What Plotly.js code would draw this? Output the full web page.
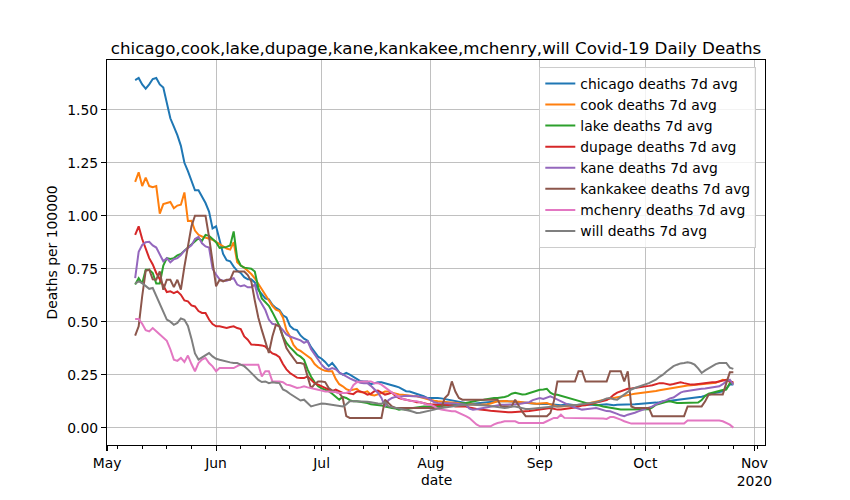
<!DOCTYPE html>
<html>
<head>
<meta charset="utf-8">
<script src="https://cdn.plot.ly/plotly-3.0.1.min.js"></script>
<style>
  html, body { margin: 0; padding: 0; background: #fff; }
  #chart { width: 850px; height: 500px; }
</style>
</head>
<body>
<div id="chart"></div>
<script>
// daily 7 day averages, deaths per 100000, starting 2020-05-09
var startDate = '2020-05-09';

var chicago = [
  1.64, 1.65, 1.62, 1.60, 1.62, 1.645, 1.65, 1.62, 1.605, 1.53,
  1.46, 1.42, 1.38, 1.33, 1.25, 1.21, 1.16, 1.12, 1.12, 1.09,
  1.06, 1.02, 0.94, 0.95, 0.88, 0.82, 0.79, 0.785, 0.76, 0.74,
  0.73, 0.71, 0.70, 0.70, 0.685, 0.65, 0.63, 0.61, 0.605, 0.58,
  0.565, 0.555, 0.53, 0.52, 0.48, 0.465, 0.46, 0.435, 0.42, 0.41,
  0.38, 0.36, 0.335, 0.325, 0.31, 0.29, 0.305, 0.285, 0.26, 0.25,
  0.258, 0.25, 0.24, 0.228, 0.22, 0.218, 0.218, 0.205, 0.21, 0.214,
  0.214, 0.21, 0.205, 0.20, 0.195, 0.19, 0.18, 0.172, 0.17, 0.165,
  0.158, 0.152, 0.148, 0.14, 0.14, 0.142, 0.14, 0.138, 0.135, 0.13,
  0.128, 0.125, 0.124, 0.12, 0.117, 0.113, 0.113, 0.115, 0.116, 0.116,
  0.118, 0.12, 0.122, 0.124, 0.124, 0.126, 0.124, 0.124, 0.122, 0.12,
  0.118, 0.116, 0.116, 0.113, 0.113, 0.112, 0.113, 0.113, 0.11, 0.108,
  0.108, 0.106, 0.108, 0.11, 0.108, 0.106, 0.108, 0.108, 0.11, 0.108,
  0.108, 0.106, 0.108, 0.108, 0.11, 0.108, 0.106, 0.108, 0.108, 0.108,
  0.108, 0.11, 0.11, 0.112, 0.113, 0.113, 0.113, 0.116, 0.118, 0.12,
  0.124, 0.124, 0.126, 0.128, 0.13, 0.132, 0.134, 0.136, 0.138, 0.14,
  0.142, 0.146, 0.15, 0.156, 0.16, 0.164, 0.168, 0.171, 0.185, 0.203,
  0.203
];

var cook = [
  1.16, 1.205, 1.14, 1.18, 1.14, 1.135, 1.14, 1.01, 1.055, 1.06,
  1.065, 1.035, 1.048, 1.052, 1.11, 0.975, 0.976, 0.93, 0.91, 0.902,
  0.897, 0.89, 0.887, 0.877, 0.865, 0.855, 0.845, 0.84, 0.875, 0.78,
  0.765, 0.755, 0.74, 0.725, 0.705, 0.68, 0.652, 0.63, 0.605, 0.575,
  0.557, 0.55, 0.52, 0.46, 0.43, 0.39, 0.37, 0.362, 0.35, 0.336,
  0.325, 0.30, 0.285, 0.275, 0.268, 0.266, 0.266, 0.23, 0.205, 0.195,
  0.182, 0.175, 0.178, 0.183, 0.168, 0.166, 0.171, 0.155, 0.152, 0.156,
  0.163, 0.17, 0.17, 0.165, 0.16, 0.156, 0.155, 0.152, 0.15, 0.149,
  0.148, 0.145, 0.14, 0.135, 0.13, 0.127, 0.124, 0.123, 0.122, 0.121,
  0.12, 0.118, 0.116, 0.114, 0.112, 0.11, 0.109, 0.108, 0.108, 0.108,
  0.11, 0.114, 0.12, 0.124, 0.124, 0.126, 0.124, 0.124, 0.124, 0.122,
  0.12, 0.118, 0.116, 0.113, 0.113, 0.114, 0.116, 0.116, 0.11, 0.104,
  0.10, 0.10, 0.10, 0.102, 0.104, 0.105, 0.106, 0.108, 0.112, 0.116,
  0.12, 0.124, 0.128, 0.13, 0.134, 0.137, 0.14, 0.144, 0.148, 0.152,
  0.156, 0.157, 0.16, 0.162, 0.163, 0.164, 0.167, 0.17, 0.173, 0.176,
  0.179, 0.182, 0.185, 0.188, 0.191, 0.195, 0.197, 0.199, 0.20, 0.202,
  0.203, 0.205, 0.206, 0.208, 0.21, 0.212, 0.218, 0.226, 0.222, 0.218,
  0.21
];

var lake = [
  0.675, 0.705, 0.68, 0.745, 0.745, 0.73, 0.68, 0.68, 0.765, 0.80,
  0.796, 0.80, 0.813, 0.82, 0.835, 0.85, 0.865, 0.88, 0.894, 0.882,
  0.91, 0.905, 0.89, 0.875, 0.848, 0.85, 0.853, 0.86, 0.926, 0.80,
  0.765, 0.755, 0.752, 0.75, 0.737, 0.66, 0.61, 0.59, 0.575, 0.545,
  0.51, 0.48, 0.43, 0.40, 0.38, 0.36, 0.345, 0.335, 0.32, 0.275,
  0.24, 0.215, 0.195, 0.185, 0.178, 0.172, 0.16, 0.145, 0.132, 0.145,
  0.14, 0.13, 0.124, 0.124, 0.122, 0.118, 0.116, 0.11, 0.108, 0.108,
  0.105, 0.10, 0.095, 0.093, 0.09, 0.085, 0.088, 0.085, 0.09, 0.093,
  0.095, 0.10, 0.10, 0.10, 0.10, 0.10, 0.10, 0.10, 0.103, 0.105,
  0.108, 0.11, 0.112, 0.115, 0.116, 0.12, 0.125, 0.128, 0.13, 0.132,
  0.135, 0.137, 0.14, 0.14, 0.142, 0.145, 0.15, 0.16, 0.164, 0.16,
  0.156, 0.158, 0.164, 0.168, 0.175, 0.179, 0.18, 0.183, 0.165, 0.156,
  0.155, 0.15, 0.145, 0.14, 0.135, 0.13, 0.124, 0.12, 0.115, 0.112,
  0.11, 0.108, 0.104, 0.10, 0.097, 0.093, 0.09, 0.088, 0.086, 0.085,
  0.085, 0.085, 0.085, 0.085, 0.085, 0.085, 0.087, 0.095, 0.108, 0.112,
  0.118, 0.122, 0.124, 0.12, 0.116, 0.116, 0.116, 0.115, 0.116, 0.116,
  0.118, 0.13, 0.15, 0.16, 0.165, 0.171, 0.175, 0.178, 0.18, 0.21,
  0.207
];

var dupage = [
  0.91, 0.95, 0.89, 0.848, 0.80, 0.77, 0.73, 0.70, 0.667, 0.64,
  0.643, 0.635, 0.643, 0.627, 0.60, 0.596, 0.577, 0.572, 0.55, 0.541,
  0.541, 0.51, 0.489, 0.478, 0.478, 0.475, 0.47, 0.475, 0.478, 0.47,
  0.465, 0.43, 0.415, 0.392, 0.392, 0.39, 0.388, 0.383, 0.365, 0.35,
  0.344, 0.332, 0.30, 0.275, 0.258, 0.245, 0.236, 0.234, 0.234, 0.242,
  0.225, 0.21, 0.203, 0.195, 0.19, 0.182, 0.172, 0.179, 0.17, 0.164,
  0.164, 0.16, 0.158, 0.171, 0.171, 0.165, 0.156, 0.16, 0.172, 0.175,
  0.164, 0.156, 0.16, 0.165, 0.15, 0.14, 0.135, 0.13, 0.128, 0.125,
  0.12, 0.12, 0.115, 0.112, 0.11, 0.108, 0.108, 0.11, 0.108, 0.108,
  0.105, 0.10, 0.10, 0.098, 0.10, 0.095, 0.09, 0.088, 0.085, 0.085,
  0.082, 0.08, 0.078, 0.077, 0.075, 0.073, 0.072, 0.072, 0.074, 0.075,
  0.077, 0.077, 0.078, 0.08, 0.082, 0.085, 0.085, 0.09, 0.093, 0.088,
  0.085, 0.085, 0.088, 0.093, 0.093, 0.095, 0.10, 0.104, 0.106, 0.11,
  0.113, 0.116, 0.12, 0.125, 0.13, 0.14, 0.155, 0.165, 0.171, 0.178,
  0.183, 0.185, 0.187, 0.19, 0.19, 0.195, 0.197, 0.20, 0.205, 0.21,
  0.21, 0.205, 0.203, 0.206, 0.21, 0.214, 0.21, 0.205, 0.203, 0.203,
  0.205, 0.21, 0.21, 0.212, 0.214, 0.214, 0.218, 0.222, 0.226, 0.218,
  0.214
];

var kane = [
  0.706, 0.83, 0.862, 0.875, 0.877, 0.86, 0.85, 0.82, 0.785, 0.80,
  0.78, 0.795, 0.80, 0.815, 0.835, 0.848, 0.86, 0.89, 0.90, 0.87,
  0.855, 0.85, 0.75, 0.722, 0.70, 0.693, 0.693, 0.70, 0.705, 0.675,
  0.667, 0.672, 0.662, 0.662, 0.675, 0.612, 0.585, 0.555, 0.51, 0.49,
  0.486, 0.478, 0.46, 0.44, 0.43, 0.425, 0.418, 0.412, 0.40, 0.408,
  0.37, 0.345, 0.32, 0.297, 0.28, 0.274, 0.281, 0.275, 0.26, 0.25,
  0.242, 0.232, 0.225, 0.218, 0.212, 0.21, 0.21, 0.197, 0.18, 0.165,
  0.14, 0.10, 0.13, 0.14, 0.145, 0.148, 0.148, 0.15, 0.148, 0.148,
  0.148, 0.146, 0.143, 0.14, 0.13, 0.12, 0.116, 0.116, 0.116, 0.115,
  0.116, 0.114, 0.112, 0.11, 0.108, 0.09, 0.085, 0.087, 0.09, 0.093,
  0.097, 0.10, 0.105, 0.108, 0.108, 0.108, 0.108, 0.108, 0.11, 0.112,
  0.115, 0.116, 0.12, 0.13, 0.135, 0.14, 0.135, 0.14, 0.148, 0.14,
  0.132, 0.125, 0.115, 0.108, 0.10, 0.095, 0.09, 0.085, 0.087, 0.09,
  0.093, 0.093, 0.088, 0.082, 0.078, 0.077, 0.072, 0.065, 0.058, 0.054,
  0.061, 0.065, 0.07, 0.077, 0.082, 0.088, 0.093, 0.10, 0.11, 0.118,
  0.124, 0.13, 0.138, 0.142, 0.155, 0.165, 0.171, 0.174, 0.177, 0.179,
  0.181, 0.183, 0.185, 0.187, 0.19, 0.193, 0.195, 0.205, 0.218, 0.226,
  0.203
];

var kankakee = [
  0.434, 0.478, 0.62, 0.74, 0.745, 0.70, 0.698, 0.737, 0.651, 0.698,
  0.698, 0.663, 0.698, 0.651, 0.76, 0.85, 0.95, 1.0, 1.0, 1.0,
  1.0, 0.90, 0.79, 0.667, 0.698, 0.69, 0.698, 0.698, 0.737, 0.737,
  0.737, 0.737, 0.72, 0.69, 0.60, 0.52, 0.46, 0.40, 0.352, 0.43,
  0.486, 0.478, 0.43, 0.375, 0.35, 0.33, 0.305, 0.305, 0.30, 0.242,
  0.185, 0.205, 0.218, 0.218, 0.215, 0.187, 0.175, 0.168, 0.164, 0.14,
  0.054, 0.046, 0.046, 0.046, 0.046, 0.046, 0.046, 0.046, 0.046, 0.046,
  0.046, 0.132, 0.115, 0.10, 0.093, 0.093, 0.093, 0.093, 0.093, 0.093,
  0.093, 0.093, 0.093, 0.093, 0.093, 0.093, 0.093, 0.093, 0.14, 0.156,
  0.218, 0.17, 0.14, 0.132, 0.132, 0.132, 0.132, 0.132, 0.132, 0.132,
  0.132, 0.132, 0.132, 0.132, 0.10, 0.10, 0.10, 0.10, 0.132, 0.10,
  0.075, 0.054, 0.054, 0.054, 0.054, 0.054, 0.054, 0.054, 0.069, 0.124,
  0.218, 0.218, 0.218, 0.218, 0.218, 0.218, 0.266, 0.266, 0.218, 0.218,
  0.218, 0.218, 0.218, 0.218, 0.218, 0.266, 0.266, 0.266, 0.266, 0.218,
  0.266, 0.10, 0.093, 0.093, 0.093, 0.093, 0.093, 0.054, 0.054, 0.054,
  0.054, 0.054, 0.054, 0.054, 0.054, 0.054, 0.054, 0.10, 0.10, 0.10,
  0.10, 0.10, 0.124, 0.156, 0.156, 0.156, 0.156, 0.156, 0.21, 0.261,
  0.261
];

var mchenry = [
  0.513, 0.513, 0.49, 0.46, 0.454, 0.47, 0.455, 0.44, 0.423, 0.41,
  0.37, 0.321, 0.315, 0.329, 0.31, 0.34, 0.30, 0.266, 0.305, 0.321,
  0.329, 0.305, 0.289, 0.266, 0.281, 0.281, 0.281, 0.281, 0.281, 0.29,
  0.297, 0.297, 0.297, 0.297, 0.297, 0.297, 0.242, 0.266, 0.266, 0.218,
  0.218, 0.218, 0.214, 0.203, 0.20, 0.195, 0.187, 0.19, 0.195, 0.19,
  0.187, 0.185, 0.179, 0.175, 0.171, 0.171, 0.171, 0.168, 0.164, 0.164,
  0.164, 0.171, 0.20, 0.214, 0.218, 0.218, 0.218, 0.218, 0.21, 0.21,
  0.203, 0.19, 0.179, 0.165, 0.156, 0.145, 0.135, 0.132, 0.128, 0.124,
  0.124, 0.12, 0.115, 0.108, 0.108, 0.10, 0.09, 0.085, 0.082, 0.08,
  0.077, 0.077, 0.07, 0.062, 0.054, 0.045, 0.03, 0.015, 0.006, 0.006,
  0.006, 0.006, 0.015, 0.022, 0.025, 0.03, 0.03, 0.03, 0.03, 0.022,
  0.022, 0.022, 0.022, 0.022, 0.022, 0.022, 0.022, 0.03, 0.04, 0.046,
  0.046, 0.061, 0.046, 0.046, 0.046, 0.046, 0.046, 0.046, 0.046, 0.043,
  0.043, 0.043, 0.043, 0.043, 0.041, 0.05, 0.05, 0.045, 0.038, 0.03,
  0.025, 0.019, 0.019, 0.019, 0.019, 0.019, 0.019, 0.019, 0.019, 0.019,
  0.019, 0.019, 0.019, 0.019, 0.019, 0.019, 0.019, 0.034, 0.034, 0.034,
  0.034, 0.034, 0.034, 0.034, 0.034, 0.034, 0.034, 0.03, 0.022, 0.014,
  0.0
];

var will = [
  0.68, 0.69, 0.682, 0.667, 0.655, 0.659, 0.62, 0.58, 0.54, 0.51,
  0.50, 0.485, 0.494, 0.515, 0.509, 0.48, 0.42, 0.35, 0.321, 0.33,
  0.34, 0.352, 0.336, 0.325, 0.32, 0.315, 0.313, 0.308, 0.305, 0.305,
  0.297, 0.29, 0.275, 0.258, 0.24, 0.225, 0.215, 0.218, 0.21, 0.214,
  0.212, 0.21, 0.18, 0.172, 0.16, 0.15, 0.14, 0.128, 0.132, 0.115,
  0.10, 0.105, 0.108, 0.114, 0.113, 0.11, 0.108, 0.106, 0.104, 0.10,
  0.11, 0.124, 0.124, 0.124, 0.124, 0.124, 0.122, 0.12, 0.116, 0.114,
  0.113, 0.12, 0.10, 0.097, 0.093, 0.09, 0.088, 0.085, 0.08, 0.075,
  0.069, 0.07, 0.073, 0.077, 0.08, 0.085, 0.09, 0.093, 0.095, 0.097,
  0.10, 0.102, 0.104, 0.106, 0.108, 0.108, 0.108, 0.108, 0.108, 0.108,
  0.105, 0.102, 0.10, 0.10, 0.095, 0.093, 0.095, 0.10, 0.10, 0.095,
  0.09, 0.088, 0.088, 0.09, 0.092, 0.093, 0.093, 0.095, 0.097, 0.10,
  0.10, 0.102, 0.104, 0.105, 0.106, 0.107, 0.108, 0.11, 0.112, 0.114,
  0.118, 0.12, 0.124, 0.13, 0.138, 0.14, 0.134, 0.132, 0.145, 0.158,
  0.171, 0.18, 0.187, 0.192, 0.198, 0.203, 0.21, 0.218, 0.226, 0.24,
  0.25, 0.265, 0.277, 0.29, 0.297, 0.303, 0.305, 0.308, 0.305, 0.297,
  0.28, 0.258, 0.27, 0.281, 0.29, 0.30, 0.305, 0.305, 0.305, 0.283,
  0.277
];

var seriesNames = ['chicago', 'cook', 'lake', 'dupage', 'kane', 'kankakee', 'mchenry', 'will'];
var seriesValues = [chicago, cook, lake, dupage, kane, kankakee, mchenry, will];
var colors = ['#1f77b4', '#ff7f0e', '#2ca02c', '#d62728', '#9467bd', '#8c564b', '#e377c2', '#7f7f7f'];

var monthTicks = ['2020-05-01', '2020-06-01', '2020-07-01', '2020-08-01', '2020-09-01', '2020-10-01', '2020-11-01'];
var monthLabels = ['May', 'Jun', 'Jul', 'Aug', 'Sep', 'Oct', 'Nov<br>2020'];
var yTicks = [0, 0.25, 0.5, 0.75, 1.0, 1.25, 1.5];

// one date per value
function makeDates(start, n) {
  var out = [];
  var d = new Date(start + 'T00:00:00Z');
  for (var i = 0; i < n; i++) {
    out.push(d.toISOString().slice(0, 10));
    d.setUTCDate(d.getUTCDate() + 1);
  }
  return out;
}

var dates = makeDates(startDate, chicago.length);

var data = seriesNames.map(function (name, i) {
  return {
    x: dates,
    y: seriesValues[i],
    type: 'scatter',
    mode: 'lines',
    name: name + ' deaths 7d avg',
    line: { color: colors[i], width: 2 }
  };
});

var FONT = 'DejaVu Sans, sans-serif';

var layout = {
  width: 850,
  height: 500,
  paper_bgcolor: '#ffffff',
  plot_bgcolor: '#ffffff',
  font: { family: FONT, size: 13.9, color: '#000000' },
  margin: { l: 107, r: 85, t: 60, b: 55, pad: 0 },
  title: {
    text: 'chicago,cook,lake,dupage,kane,kankakee,mchenry,will Covid-19 Daily Deaths',
    font: { family: FONT, size: 16.7, color: '#000000' },
    x: 0.5, xref: 'paper', xanchor: 'center',
    y: 1, yref: 'paper', yanchor: 'bottom',
    pad: { b: 6 }
  },
  showlegend: true,
  legend: {
    x: 0.657, y: 0.982, xanchor: 'left', yanchor: 'top',
    bgcolor: 'rgba(255,255,255,0.8)',
    bordercolor: '#cccccc', borderwidth: 1,
    font: { family: FONT, size: 13.9, color: '#000000' },
    itemwidth: 30,
    tracegroupgap: 0
  },
  xaxis: {
    type: 'date',
    range: ['2020-05-01', '2020-11-04'],
    tickmode: 'array',
    tickvals: monthTicks,
    ticktext: monthLabels,
    ticks: 'outside', ticklen: 5, tickwidth: 1.1, tickcolor: '#000000',
    showgrid: true, gridcolor: '#b0b0b0', gridwidth: 0.8,
    showline: true, linecolor: '#000000', linewidth: 1.1, mirror: true,
    zeroline: false,
    tickfont: { family: FONT, size: 13.9, color: '#000000' },
    minor: {
      ticks: 'outside', ticklen: 3, tickwidth: 1, tickcolor: '#000000',
      tick0: '2020-05-04', dtick: 7 * 86400000, showgrid: false
    }
  },
  yaxis: {
    range: [-0.082, 1.735],
    tickmode: 'array',
    tickvals: yTicks,
    tickformat: '.2f',
    ticks: 'outside', ticklen: 5, tickwidth: 1.1, tickcolor: '#000000',
    showgrid: true, gridcolor: '#b0b0b0', gridwidth: 0.8,
    showline: true, linecolor: '#000000', linewidth: 1.1, mirror: true,
    zeroline: false,
    tickfont: { family: FONT, size: 13.9, color: '#000000' }
  },
  annotations: [
    {
      text: 'date', xref: 'paper', yref: 'paper',
      x: 0.5, y: -0.091, xanchor: 'center', yanchor: 'middle',
      showarrow: false, font: { family: FONT, size: 13.9, color: '#000000' }
    },
    {
      text: 'Deaths per 100000', xref: 'paper', yref: 'paper',
      x: -0.0836, y: 0.5, xanchor: 'center', yanchor: 'middle',
      textangle: -90, showarrow: false,
      font: { family: FONT, size: 13.9, color: '#000000' }
    }
  ]
};

Plotly.newPlot('chart', data, layout, { displayModeBar: false, staticPlot: true });
</script>
</body>
</html>
